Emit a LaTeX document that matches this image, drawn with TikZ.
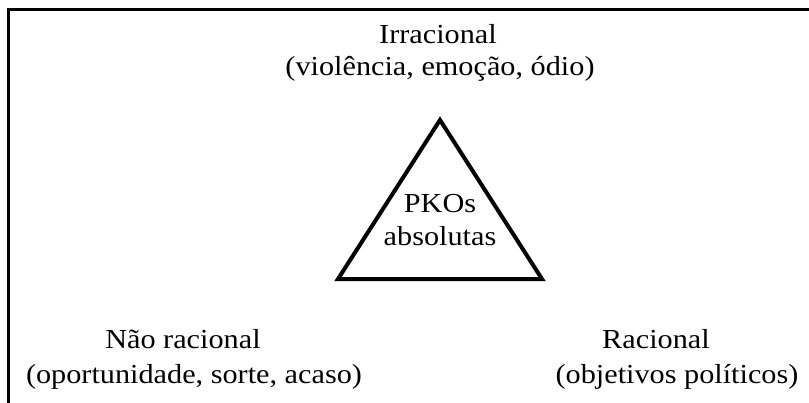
\documentclass[tikz,border=0pt]{standalone}
\usepackage{fontspec}
\setmainfont{Liberation Serif}[FakeStretch=1.1]
\usepackage{tikz}

\begin{document}
\begin{tikzpicture}[x=1pt, y=-1pt,
    lbl/.style={anchor=base, inner sep=0pt, font=\fontsize{27.5}{33}\selectfont}]
    \useasboundingbox (0,0) rectangle (809,402);
    \draw[line width=3pt] (8.5,420) -- (8.5,9) -- (830,9);
    \draw[line width=4pt, line join=miter] (440,120) -- (542,279) -- (338,279) -- cycle;
    \node[lbl, align=center] (pko) at (440,245) {PKOs\\absolutas};
    \node[lbl] (irr) at (438,43) {Irracional};
    \node[lbl] (irrsub) at (440,75) {(violência, emoção, ódio)};
    \node[lbl] (nrac) at (183,348) {Não racional};
    \node[lbl] (nracsub) at (194,383) {(oportunidade, sorte, acaso)};
    \node[lbl] (rac) at (656,348) {Racional};
    \node[lbl] (racsub) at (677,383) {(objetivos políticos)};
\end{tikzpicture}
\end{document}
